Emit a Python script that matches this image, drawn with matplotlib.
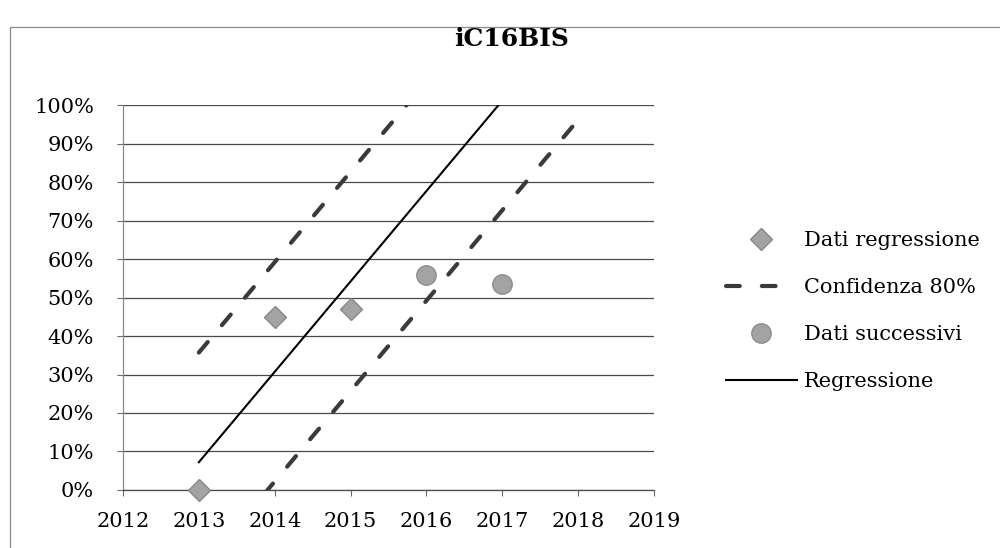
import matplotlib.pyplot as plt
from matplotlib.patches import Rectangle

# valori
anni_regr = [2013, 2014, 2015]
dati_regr = [0.0, 45.0, 47.0]

anni_succ = [2016, 2017]
dati_succ = [55.8, 53.5]

anni_retta = [2013, 2017]
retta = [7.2, 101.2]

anni_conf = [2013, 2014, 2015, 2016, 2017, 2018]
conf_sup = [35.7, 59.2, 82.7, 106.2, 129.7, 153.2]
conf_inf = [-21.3, 2.2, 25.7, 49.2, 72.7, 96.2]

anni_tick = [2012, 2013, 2014, 2015, 2016, 2017, 2018, 2019]
perc_tick = [0, 10, 20, 30, 40, 50, 60, 70, 80, 90, 100]

plt.rcParams["font.family"] = ["DejaVu Serif"]

fig = plt.figure(figsize=(10, 5.48), dpi=100)
ax = fig.add_axes([0.123, 0.106, 0.531, 0.702])

# bordo dell'area grafico
fig.patches.append(Rectangle((0.010, -0.05), 1.2, 1.0, transform=fig.transFigure,
                             fill=False, edgecolor="#8a8a8a", linewidth=0.9))

for p in perc_tick:
    ax.axhline(p, color="#4a4a4a", linewidth=0.9, zorder=1)

grigio_scuro = "#3a3a3a"
conf_style = dict(color=grigio_scuro, linewidth=3.0, dashes=(3.3, 5.3),
                  dash_capstyle="round", zorder=2)
ax.plot(anni_conf, conf_sup, label="Confidenza 80%", **conf_style)
ax.plot(anni_conf, conf_inf, **conf_style)

ax.plot(anni_retta, retta, color="black", linewidth=1.5, label="Regressione", zorder=3)

ax.plot(anni_regr, dati_regr, linestyle="none", marker="D", markersize=11,
        markerfacecolor="#a3a3a3", markeredgecolor="#888888", markeredgewidth=1,
        label="Dati regressione", zorder=4, clip_on=False)
ax.plot(anni_succ, dati_succ, linestyle="none", marker="o", markersize=14,
        markerfacecolor="#a3a3a3", markeredgecolor="#8e8e8e", markeredgewidth=1,
        label="Dati successivi", zorder=4)

ax.set_xlim(2012, 2019)
ax.set_ylim(0, 100)
ax.set_xticks(anni_tick)
ax.set_xticklabels([str(a) for a in anni_tick])
ax.set_yticks(perc_tick)
ax.set_yticklabels([f"{p}%" for p in perc_tick])

for s in ["top", "right"]:
    ax.spines[s].set_visible(False)
ax.spines["left"].set_color("#8a8a8a")
ax.spines["left"].set_linewidth(0.9)
ax.spines["bottom"].set_color("#4a4a4a")
ax.spines["bottom"].set_linewidth(0.9)

ax.tick_params(axis="y", length=4, width=0.8, color="#6a6a6a", pad=17, labelsize=15)
ax.tick_params(axis="x", length=4, width=0.8, color="#6a6a6a", pad=12, labelsize=15)

fig.text(0.512, 0.928, "iC16BIS", ha="center", va="center",
         fontsize=18, fontweight="bold")

handles, labels = ax.get_legend_handles_labels()
ordine = ["Dati regressione", "Confidenza 80%", "Dati successivi", "Regressione"]
h = [handles[labels.index(l)] for l in ordine]
fig.legend(h, ordine, loc="center left", bbox_to_anchor=(0.726, 1 - 311 / 548),
           frameon=False, fontsize=15, handlelength=3.4, handletextpad=0.35,
           labelspacing=1.35, borderpad=0, borderaxespad=0)

fig.savefig("out.png", dpi=100)
